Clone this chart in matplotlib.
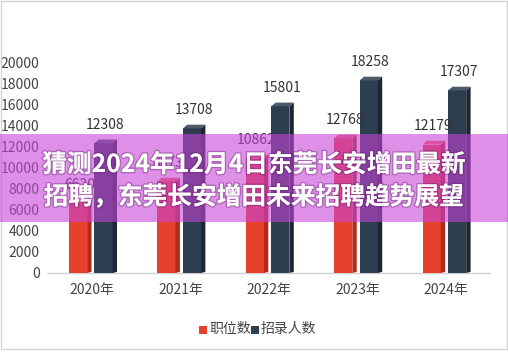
import matplotlib
matplotlib.use("Agg")
import matplotlib.pyplot as plt
from matplotlib.patches import Polygon, Rectangle
import matplotlib.patheffects as pe

plt.rcParams['font.family'] = ['Noto Sans CJK SC', 'DejaVu Sans']

years = ['2020年', '2021年', '2022年', '2023年', '2024年']
positions = [6620, 8673, 10862, 12768, 12179]
recruits = [12308, 13708, 15801, 18258, 17307]
series_names = ['职位数', '招录人数']
y_ticks = [0, 2000, 4000, 6000, 8000, 10000, 12000, 14000, 16000, 18000, 20000]
title_lines = ['猜测2024年12月4日东莞长安增田最新', '招聘，东莞长安增田未来招聘趋势展望']

W, H = 508, 359
fig = plt.figure(figsize=(W / 100, H / 100), dpi=100)
fig.patch.set_facecolor('white')

ax = fig.add_axes([48 / W, 1 - 273 / H, (490 - 48) / W, (273 - 62) / H])
ax.set_xlim(-0.5, 4.5)
ax.set_ylim(0, 20000)
for s in ['top', 'right', 'left']:
    ax.spines[s].set_visible(False)
ax.spines['bottom'].set_color('#d0d0d0')
ax.spines['bottom'].set_linewidth(1.0)
ax.set_yticks(y_ticks)
ax.set_yticklabels([str(v) for v in y_ticks], fontsize=10, color='#444444')
ax.tick_params(axis='y', length=0, pad=6)
ax.set_xticks(range(len(years)))
ax.set_xticklabels(years, fontsize=10, color='#444444')
ax.tick_params(axis='x', length=0, pad=7)
ax.set_facecolor('none')

# pseudo-3D columns: front face from ax.bar, side and top faces as polygons
depth_x = 0.05
depth_y = 350
styles = [
    dict(front='#e8402f', side='#b3291d', top='#f06a5a'),
    dict(front='#2c3e50', side='#1b2834', top='#4a5b6c'),
]
offsets = [-0.16, 0.128]
width = 0.205
for vals, off, st in zip([positions, recruits], offsets, styles):
    xs = [i + off for i in range(len(vals))]
    bars = ax.bar(xs, vals, width=width, color=st['front'], zorder=3)
    for b, v in zip(bars, vals):
        x0 = b.get_x()
        x1 = x0 + b.get_width()
        ax.add_patch(Polygon([(x1, 0), (x1 + depth_x, depth_y * 0.3), (x1 + depth_x, v + depth_y), (x1, v)],
                             closed=True, facecolor=st['side'], edgecolor='none', zorder=3))
        ax.add_patch(Polygon([(x0, v), (x0 + depth_x, v + depth_y), (x1 + depth_x, v + depth_y), (x1, v)],
                             closed=True, facecolor=st['top'], edgecolor='none', zorder=3))
        ax.text((x0 + x1) / 2 + 0.02, v + depth_y + 700, str(v), ha='center', va='bottom',
                fontsize=10, color='#333333', zorder=4, clip_on=False)

# legend row
fig.patches.append(Rectangle((199 / W, 1 - 334 / H), 8 / W, 8 / H, transform=fig.transFigure,
                             facecolor='#e8402f', edgecolor='none'))
fig.text(209 / W, 1 - 329 / H, series_names[0], fontsize=10, color='#444444', va='center', ha='left')
fig.patches.append(Rectangle((251 / W, 1 - 334 / H), 8 / W, 8 / H, transform=fig.transFigure,
                             facecolor='#2c3e50', edgecolor='none'))
fig.text(261 / W, 1 - 329 / H, series_names[1], fontsize=10, color='#444444', va='center', ha='left')

# outer frame
fig.patches.append(Rectangle((0.5 / W, 1 - 349 / H), (W - 2) / W, 348.5 / H, transform=fig.transFigure,
                             facecolor='none', edgecolor='#d4d4d4', linewidth=1.0))

# translucent title banner
fig.patches.append(Rectangle((0, 1 - 222 / H), 1, 88 / H, transform=fig.transFigure,
                             facecolor='#c844d8', alpha=0.6, edgecolor='none', zorder=10))
shadow = [pe.withStroke(linewidth=2.0, foreground=(0.35, 0.1, 0.4, 0.35))]
for k, line in enumerate(title_lines):
    t = fig.text(0.5, 1 - (165 + 32 * k) / H, line, ha='center', va='center', fontsize=17.8,
                 fontweight='bold', color='white', zorder=11)
    t.set_path_effects(shadow)

fig.savefig('out.png', dpi=100)
